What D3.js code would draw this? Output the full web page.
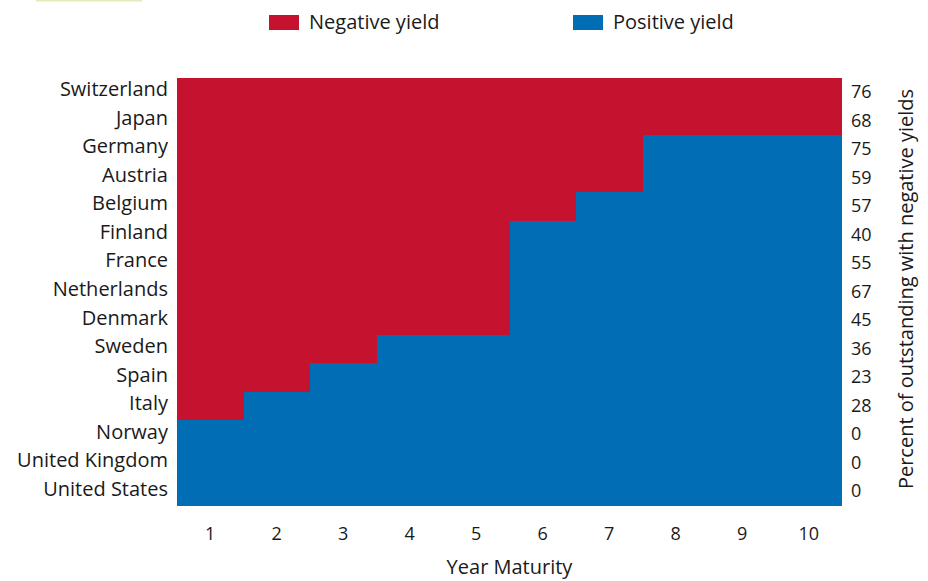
<!DOCTYPE html>
<html>
<head>
<meta charset="utf-8">
<script src="https://cdn.jsdelivr.net/npm/d3@7"></script>
<style>
  html, body { margin: 0; padding: 0; background: #fff; }
  svg { display: block; }
  text { font-family: "Open Sans", Lato, sans-serif; fill: #1a1a1a; }
</style>
</head>
<body>
<svg id="chart" width="928" height="581"></svg>
<script>
// Countries, top to bottom
const countries = ["Switzerland", "Japan", "Germany", "Austria", "Belgium", "Finland", "France",
  "Netherlands", "Denmark", "Sweden", "Spain", "Italy", "Norway", "United Kingdom", "United States"];

// Longest maturity (years) at which each country's government bonds still yield below zero
const negativeThroughYear = [10, 10, 7, 7, 6, 5, 5, 5, 5, 3, 2, 1, 0, 0, 0];

// Percent of outstanding debt trading with negative yields
const pctNegative = [76, 68, 75, 59, 57, 40, 55, 67, 45, 36, 23, 28, 0, 0, 0];

// Maturities on the horizontal axis
const maturities = [1, 2, 3, 4, 5, 6, 7, 8, 9, 10];

const legendItems = ["Negative yield", "Positive yield"];
const colors = { neg: "#c5122f", pos: "#006db5" };
const font = "'Open Sans', Lato, sans-serif";

const svg = d3.select("#chart");
const plot = { left: 177, right: 842, top: 78, bottom: 506 };

const x = d3.scaleBand().domain(maturities).range([plot.left, plot.right]).padding(0);
const y = d3.scaleBand().domain(countries).range([plot.top, plot.bottom]).padding(0);

// Cells: one per country × maturity
const cells = [];
countries.forEach((c, i) => {
  maturities.forEach(m => {
    cells.push({ country: c, maturity: m, negative: m <= negativeThroughYear[i] });
  });
});

const snap = v => Math.round(v);
svg.append("g")
  .selectAll("rect")
  .data(cells)
  .join("rect")
  .attr("x", d => snap(x(d.maturity)))
  .attr("y", d => snap(y(d.country)))
  .attr("width", d => snap(x(d.maturity) + x.bandwidth()) - snap(x(d.maturity)))
  .attr("height", d => snap(y(d.country) + y.bandwidth()) - snap(y(d.country)))
  .attr("fill", d => d.negative ? colors.neg : colors.pos)
  .attr("shape-rendering", "crispEdges");

function styleTicks(g, size) {
  g.select(".domain").remove();
  g.selectAll("text")
    .attr("font-size", size)
    .attr("font-family", font)
    .attr("fill", "#1a1a1a");
}

// Left axis: country names
const leftAxis = svg.append("g")
  .attr("transform", `translate(${plot.left},0)`)
  .call(d3.axisLeft(y).tickSize(0).tickPadding(9));
styleTicks(leftAxis, 20);
leftAxis.selectAll("text").attr("dy", "0.2em");

// Right axis: percent with negative yields
const pctByCountry = new Map(countries.map((c, i) => [c, pctNegative[i]]));
const rightAxis = svg.append("g")
  .attr("transform", `translate(${plot.right},0)`)
  .call(d3.axisRight(y).tickSize(0).tickPadding(9).tickFormat(c => pctByCountry.get(c)));
styleTicks(rightAxis, 18);

// Bottom axis: maturity in years
const bottomAxis = svg.append("g")
  .attr("transform", `translate(0,${plot.bottom})`)
  .call(d3.axisBottom(x).tickSize(0).tickPadding(21));
styleTicks(bottomAxis, 18);

// Axis titles
svg.append("text")
  .attr("x", (plot.left + plot.right) / 2)
  .attr("y", 574)
  .attr("text-anchor", "middle")
  .attr("font-size", 20)
  .text("Year Maturity");

svg.append("text")
  .attr("transform", `translate(913,289) rotate(-90)`)
  .attr("text-anchor", "middle")
  .attr("font-size", 20)
  .text("Percent of outstanding with negative yields");

// Legend
const legend = svg.append("g");
const legendX = [269, 573];
legendItems.forEach((label, i) => {
  const g = legend.append("g").attr("transform", `translate(${legendX[i]},15)`);
  g.append("rect").attr("width", 30).attr("height", 15)
    .attr("fill", i === 0 ? colors.neg : colors.pos);
  g.append("text").attr("x", 40).attr("y", 14).attr("font-size", 20).text(label);
});

// Thin accent rule at the top-left corner
svg.append("rect").attr("x", 36).attr("y", 0).attr("width", 106).attr("height", 1.5).attr("fill", "#e3ecb8");
</script>
</body>
</html>
